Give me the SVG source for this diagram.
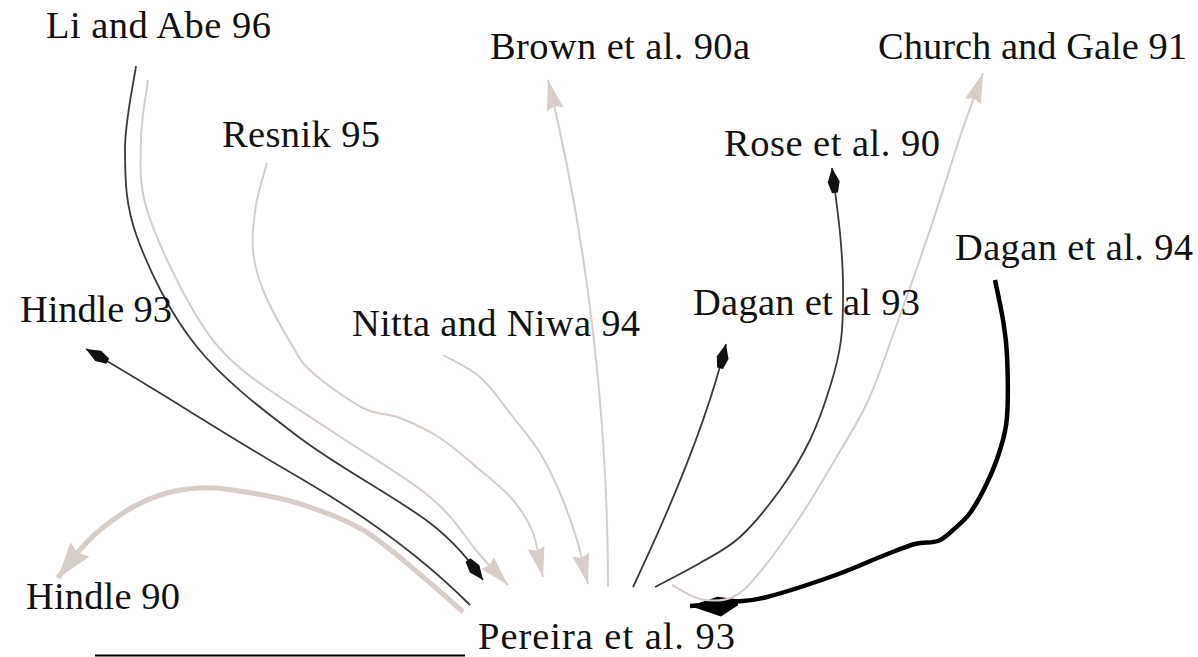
<svg xmlns="http://www.w3.org/2000/svg" width="1198" height="657" viewBox="0 0 1198 657">
<style>
text{font-family:"Liberation Serif","Times New Roman",serif;font-size:38.5px;fill:#111}
.lt{fill:none;stroke:#d8cdc9;stroke-width:2}
.dk{fill:none;stroke:#3a3a3a;stroke-width:1.8}
</style>
<defs>
<marker id="hl" markerUnits="userSpaceOnUse" viewBox="-32 -10 34 20" refX="0" refY="0" markerWidth="34" markerHeight="20" orient="auto"><path d="M0,0 L-30,-8.5 L-27,0 L-30,8.5 Z" fill="#d8cdc9"/></marker>
<marker id="hb" markerUnits="userSpaceOnUse" viewBox="-40 -14 42 28" refX="0" refY="0" markerWidth="42" markerHeight="28" orient="auto"><path d="M0,0 L-36,-12 L-32,0 L-36,12 Z" fill="#d8cdc9"/></marker>
<marker id="hd" markerUnits="userSpaceOnUse" viewBox="-30 -8 32 16" refX="0" refY="0" markerWidth="32" markerHeight="16" orient="auto"><path d="M0,0 L-14,-6 L-25,-3 L-25,3 L-14,6 Z" fill="#111"/></marker>
<marker id="hk" markerUnits="userSpaceOnUse" viewBox="-52 -16 54 32" refX="0" refY="0" markerWidth="54" markerHeight="32" orient="auto"><path d="M0,0 L-28,7 L-48,3 L-48,-3 L-30,-13 Z" fill="#000"/></marker>
</defs>
<g id="connectors">
<path id="e-dagan94" fill="none" stroke="#000" stroke-width="4.5" marker-end="url(#hk)" d="M995,280 C996.3,286.7 1001,307.5 1003,320 C1005,332.5 1006.3,338.8 1007,355 C1007.7,371.2 1008.2,401.2 1007,417 C1005.8,432.8 1003.3,439 1000,450 C996.7,461 992,472.5 987,483 C982,493.5 975.7,505.2 970,513 C964.3,520.8 958.3,525.3 953,530 C947.7,534.7 944.3,538.7 938,541 C931.7,543.3 923.8,541.7 915,544 C906.2,546.3 898.7,549.7 885,555 C871.3,560.3 852.7,569 833,576 C813.3,583 783.7,592.7 767,597 C750.3,601.3 745.5,600.5 733,602 C720.5,603.5 698.8,605.3 690,606"/>
<path id="e-hindle90" fill="none" stroke="#d8cdc9" stroke-width="5" marker-end="url(#hb)" d="M463,612 C456.3,606.2 439.7,590.7 423,577 C406.3,563.3 384,542.3 363,530 C342,517.7 318.7,509.7 297,503 C275.3,496.3 249.2,492.5 233,490 C216.8,487.5 211,487.5 200,488 C189,488.5 178.2,489.8 167,493 C155.8,496.2 144.2,500.8 133,507 C121.8,513.2 109.2,522.5 100,530 C90.8,537.5 85,544 78,552 C71,560 61.3,573.7 58,578"/>
<path id="e-liabe-l" class="lt" marker-end="url(#hl)" d="M148,80 C146.8,90 141.2,118.3 141,140 C140.8,161.7 138.3,181.7 147,210 C155.7,238.3 177.5,283.7 193,310 C208.5,336.3 217.2,348 240,368 C262.8,388 298.3,408.5 330,430 C361.7,451.5 405,476.2 430,497 C455,517.8 467,540.3 480,555 C493,569.7 503.3,580 508,585"/>
<path id="e-resnik" class="lt" marker-end="url(#hl)" d="M267,163 C265.2,170 258.3,190.5 256,205 C253.7,219.5 251.8,235.8 253,250 C254.2,264.2 256.3,273.8 263,290 C269.7,306.2 284.7,333.2 293,347 C301.3,360.8 301.3,362.8 313,373 C324.7,383.2 348.5,400.5 363,408 C377.5,415.5 387.2,413 400,418 C412.8,423 426.7,429.3 440,438 C453.3,446.7 467.8,459.7 480,470 C492.2,480.3 504.2,489.5 513,500 C521.8,510.5 528,520.2 533,533 C538,545.8 541.3,569.7 543,577"/>
<path id="e-nitta" class="lt" marker-end="url(#hl)" d="M443,355 C449.2,358.7 468.3,366.7 480,377 C491.7,387.3 503,404.3 513,417 C523,429.7 532.2,440.3 540,453 C547.8,465.7 553.8,478.5 560,493 C566.2,507.5 572.3,524.8 577,540 C581.7,555.2 586.2,576.7 588,584"/>
<path id="e-brown" class="lt" marker-end="url(#hl)" d="M608,587 C608,430 590,250 548,80"/>
<path id="e-church" class="lt" marker-end="url(#hl)" d="M672,585 C676.7,587.3 689.8,597 700,599 C710.2,601 723,601.5 733,597 C743,592.5 748.8,585.3 760,572 C771.2,558.7 787.8,535.2 800,517 C812.2,498.8 821.8,482 833,463 C844.2,444 857,424.3 867,403 C877,381.7 882.5,363.8 893,335 C903.5,306.2 918.8,263 930,230 C941.2,197 951.2,163.2 960,137 C968.8,110.8 979.2,83.7 983,73"/>
<path id="e-liabe-d" class="dk" marker-end="url(#hd)" d="M136,66 C134.2,80 124.8,121.5 125,150 C125.2,178.5 125,204.2 137,237 C149,269.8 169.8,313.5 197,347 C224.2,380.5 261.2,408.7 300,438 C338.8,467.3 400,499.8 430,523 C460,546.2 474,568 483,580"/>
<path id="e-hindle93" class="dk" marker-end="url(#hd)" d="M470,605 C440,575 390,530 300,478 C230,438 150,385 86,349"/>
<path id="e-dagan93" class="dk" marker-end="url(#hd)" d="M633,587 C660,530 705,430 726,344"/>
<path id="e-rose" class="dk" marker-end="url(#hd)" d="M655,587 C662.5,583 685.8,571.3 700,563 C714.2,554.7 726.7,549.2 740,537 C753.3,524.8 768.3,506.2 780,490 C791.7,473.8 801.7,457.2 810,440 C818.3,422.8 824.8,403.7 830,387 C835.2,370.3 838.8,357.3 841,340 C843.2,322.7 843.2,300.8 843,283 C842.8,265.2 841.8,252.2 840,233 C838.2,213.8 833.3,178.8 832,168"/>
<line x1="95" y1="655.5" x2="465" y2="655.5" stroke="#000" stroke-width="2"/>
</g>
<g id="n-liabe96"><text x="46" y="38" textLength="225">Li and Abe 96</text></g>
<g id="n-brown90a"><text x="490" y="59" textLength="260">Brown et al. 90a</text></g>
<g id="n-church91"><text x="878" y="59" textLength="309">Church and Gale 91</text></g>
<g id="n-resnik95"><text x="222" y="147" textLength="158">Resnik 95</text></g>
<g id="n-rose90"><text x="724" y="156" textLength="216">Rose et al. 90</text></g>
<g id="n-dagan94"><text x="955" y="260" textLength="238">Dagan et al. 94</text></g>
<g id="n-hindle93"><text x="20" y="322" textLength="152">Hindle 93</text></g>
<g id="n-nitta94"><text x="352" y="336" textLength="288">Nitta and Niwa 94</text></g>
<g id="n-dagan93"><text x="693" y="315" textLength="227">Dagan et al 93</text></g>
<g id="n-hindle90"><text x="26" y="609" textLength="154">Hindle 90</text></g>
<g id="n-pereira93"><text x="478" y="648.5" textLength="257">Pereira et al. 93</text></g>
</svg>
